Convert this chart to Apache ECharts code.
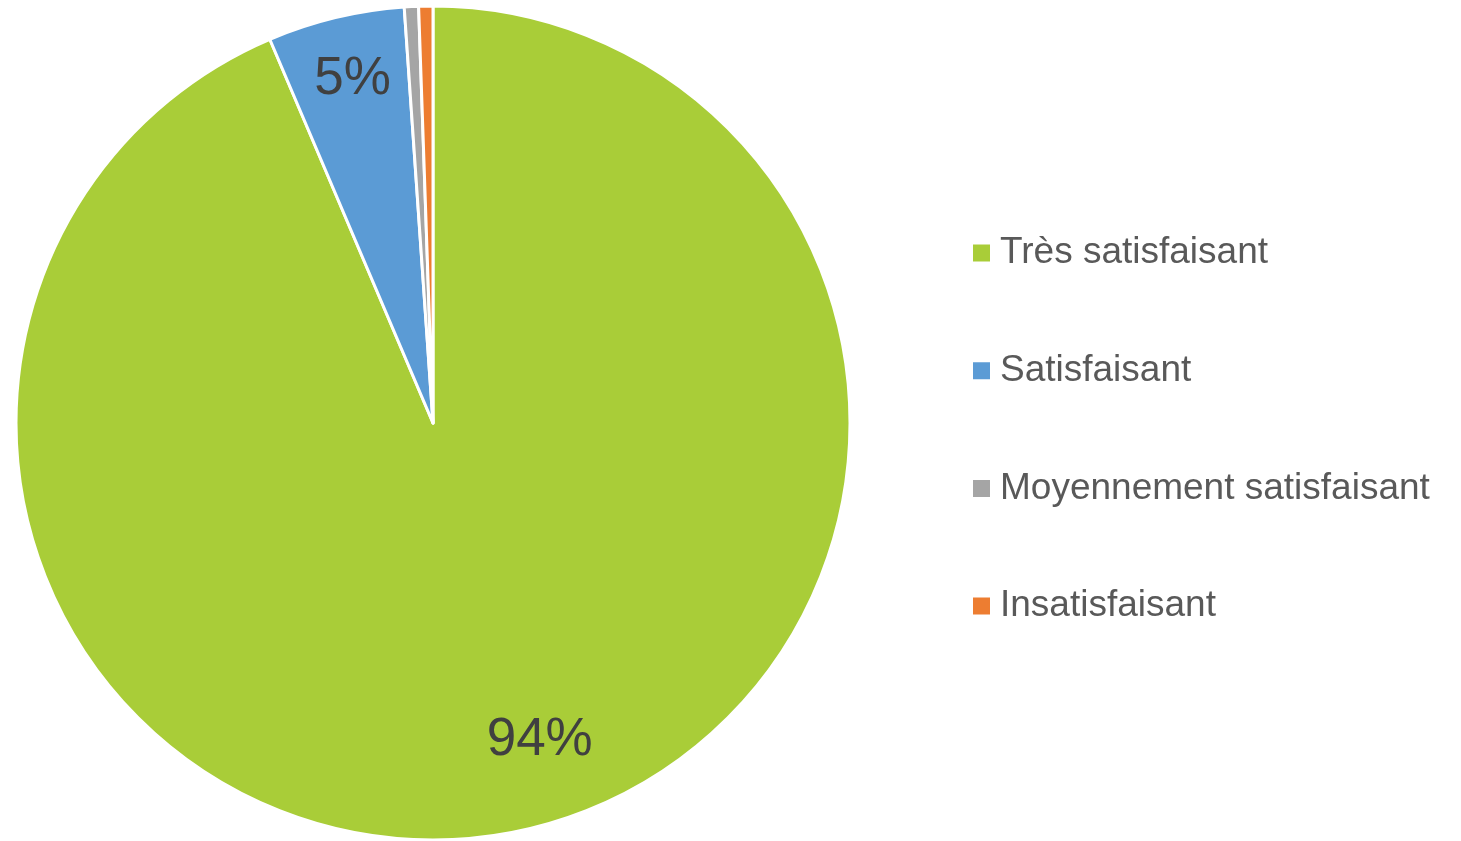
<!DOCTYPE html>
<html>
<head>
    <meta charset="utf-8">
    <title>ECharts</title>
    <script src="https://cdn.jsdelivr.net/npm/echarts@6/dist/echarts.min.js"></script>
    <style>
        html, body { margin: 0; padding: 0; background: #fff; }
    </style>
</head>
<body>
<div id="main" style="width: 1461px;height:841px;"></div>
<script type="text/javascript">
    // données (en %)
    var categories = ['Très satisfaisant', 'Satisfaisant', 'Moyennement satisfaisant', 'Insatisfaisant'];
    var values = [93.6, 5.3, 0.55, 0.55];
    var colors = ['#A9CD38', '#5B9BD5', '#A5A5A5', '#ED7D31'];

    var myChart = echarts.init(document.getElementById('main'));

    var pieData = [];
    var labelData = [];
    for (var i = 0; i < categories.length; i++) {
        pieData.push({ name: categories[i], value: values[i] });
        labelData.push({ name: categories[i], value: values[i] });
    }
    // l'étiquette du grand secteur est un peu décalée (comme dans Excel)
    labelData[0].label = { offset: [37, -25] };
    labelData[1].label = { offset: [1, -4] };

    var option = {
        color: colors,
        animation: false,
        legend: {
            orient: 'vertical',
            left: 966,
            top: 227,
            itemWidth: 19,
            itemHeight: 19,
            itemGap: 75.7,
            icon: 'rect',
            data: categories,
            textStyle: {
                fontFamily: 'Liberation Sans',
                fontSize: 37,
                lineHeight: 42,
                color: '#595959',
                padding: [0, 0, 0, 4]
            }
        },
        series: [
            {
                // les secteurs
                type: 'pie',
                center: [433, 423],
                radius: 417,
                startAngle: 90,
                clockwise: true,
                silent: true,
                label: { show: false },
                labelLine: { show: false },
                itemStyle: { borderColor: '#fff', borderWidth: 3 },
                data: pieData
            },
            {
                // étiquettes seulement
                type: 'pie',
                center: [433, 423],
                radius: [275, 417],
                startAngle: 90,
                clockwise: true,
                silent: true,
                itemStyle: { color: 'rgba(0,0,0,0)' },
                label: {
                    show: true,
                    position: 'inside',
                    fontFamily: 'Liberation Sans',
                    fontSize: 53,
                    color: '#404040',
                    formatter: function (p) {
                        return p.percent >= 2 ? Math.round(p.percent) + '%' : '';
                    }
                },
                labelLine: { show: false },
                data: labelData
            }
        ]
    };

    myChart.setOption(option);
</script>
</body>
</html>
